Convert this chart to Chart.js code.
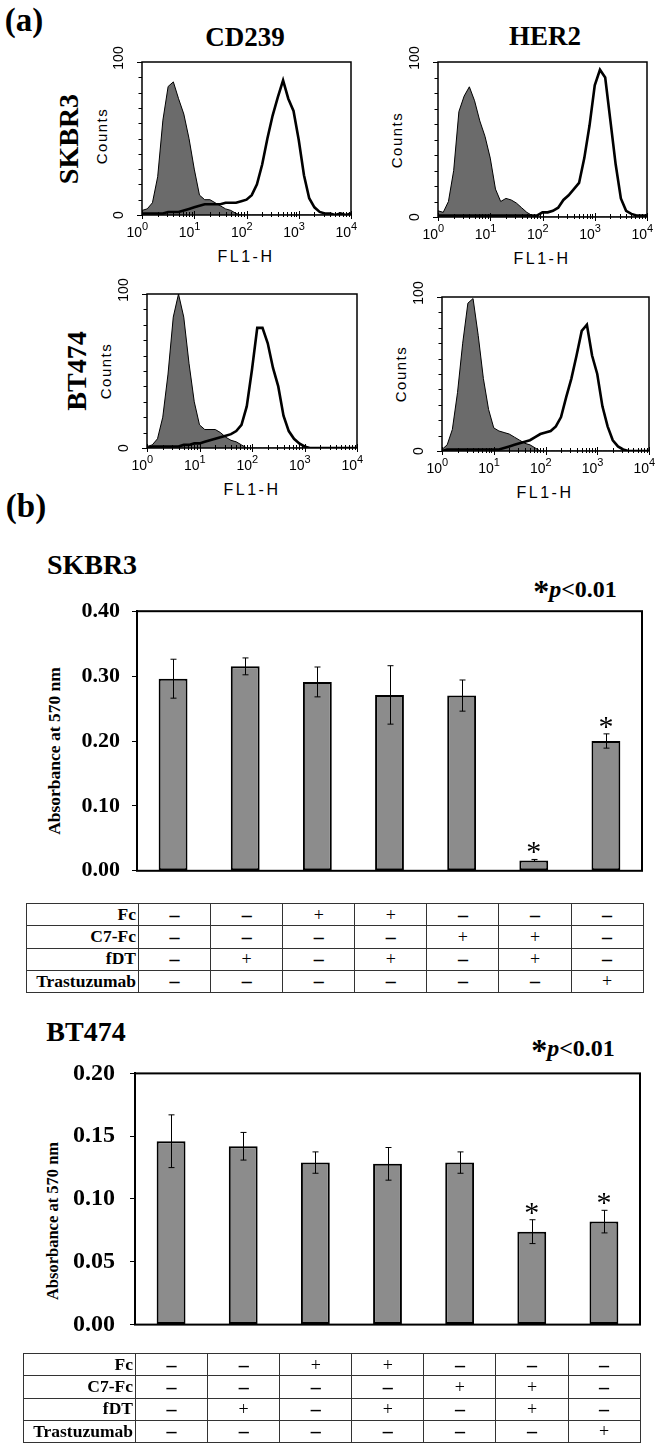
<!DOCTYPE html>
<html><head><meta charset="utf-8">
<script src="https://cdn.jsdelivr.net/npm/chart.js@4.4.1/dist/chart.umd.min.js"></script>
<style>
html,body{margin:0;padding:0;background:#fff;}
body{width:666px;height:1455px;position:relative;overflow:hidden;font-family:"Liberation Serif","Times New Roman",serif;color:#000;}
.c{position:absolute;transform:translate(-50%,-50%);white-space:nowrap;line-height:1;}
.r{position:absolute;transform:translate(-50%,-50%) rotate(-90deg);white-space:nowrap;line-height:1;}
.b{font-weight:bold;}
.sans{font-family:"Liberation Sans",Arial,sans-serif;}
canvas{position:absolute;}
table{position:absolute;border-collapse:collapse;table-layout:fixed;}
td{border:1px solid #333;padding:0;font-size:18px;line-height:1;text-align:center;overflow:hidden;white-space:nowrap;color:#000;}
td.lab{font-weight:bold;text-align:right;padding-right:2px;font-size:17.5px;}
td.v{font-weight:bold;font-size:20px;}
</style>
</head><body>

<div class="c b" style="left:24px;top:20px;font-size:33px;">(a)</div>
<div class="c b" style="left:245px;top:37px;font-size:27px;">CD239</div>
<div class="c b" style="left:545px;top:36px;font-size:27px;">HER2</div>
<div class="r b" style="left:69px;top:139px;font-size:28px;">SKBR3</div>
<div class="r b" style="left:77px;top:371px;font-size:28px;">BT474</div>

<div class="r sans" style="left:101px;top:136px;font-size:15px;letter-spacing:1.5px;">Counts</div>
<div class="r sans" style="left:396px;top:140px;font-size:15px;letter-spacing:1.5px;">Counts</div>
<div class="r sans" style="left:105px;top:371px;font-size:15px;letter-spacing:1.5px;">Counts</div>
<div class="r sans" style="left:400px;top:374px;font-size:15px;letter-spacing:1.5px;">Counts</div>
<div class="c sans" style="left:246px;top:257px;font-size:16px;letter-spacing:2.5px;">FL1-H</div>
<div class="c sans" style="left:542px;top:259px;font-size:16px;letter-spacing:2.5px;">FL1-H</div>
<div class="c sans" style="left:252px;top:490px;font-size:16px;letter-spacing:2.5px;">FL1-H</div>
<div class="c sans" style="left:545px;top:493px;font-size:16px;letter-spacing:2.5px;">FL1-H</div>

<canvas id="h1"></canvas>
<canvas id="h2"></canvas>
<canvas id="h3"></canvas>
<canvas id="h4"></canvas>

<div class="c b" style="left:26px;top:506px;font-size:33px;">(b)</div>
<div class="c b" style="left:92px;top:565px;font-size:28px;">SKBR3</div>
<div class="c b" style="left:575px;top:586px;font-size:24px;"><span style="font-size:32px;position:relative;top:5px;">*</span><i>p</i>&lt;0.01</div>
<div class="r b" style="left:55px;top:751px;font-size:17.5px;">Absorbance at 570 nm</div>
<canvas id="b1"></canvas>
<table id="t1" style="left:26px;top:903px;width:617px;height:89px;"></table>

<div class="c b" style="left:86px;top:1032px;font-size:28px;">BT474</div>
<div class="c b" style="left:573px;top:1045px;font-size:24px;"><span style="font-size:32px;position:relative;top:5px;">*</span><i>p</i>&lt;0.01</div>
<div class="r b" style="left:53px;top:1221px;font-size:16.5px;">Absorbance at 570 nm</div>
<canvas id="b2"></canvas>
<table id="t2" style="left:23px;top:1353px;width:617px;height:89px;"></table>

<script>
// ---------- (a) flow cytometry data: x in decades of FL1-H (10^x), y = counts ----------
const decades = [0,0.1,0.2,0.3,0.4,0.5,0.6,0.7,0.8,0.9,1,1.1,1.2,1.3,1.4,1.5,1.6,1.7,1.8,1.9,2,2.1,2.2,2.3,2.4,2.5,2.6,2.7,2.8,2.9,3,3.1,3.2,3.3,3.4,3.5,3.6,3.7,3.8,3.9,4];
const decadeTicks = [0,1,2,3,4];
const decadeExponents = ['0','1','2','3','4'];
const countTicks = [0,10,20,30,40,50,60,70,80,90,100];
const countLabels = [0,100];

const skbr3Cd239Control  = [3,4,8,25,62,84,87,76,66,50,30,13,10,10,8,6,4,3,1,0,0,0,0,0,0,0,0,0,0,0,0,0,0,0,0,0,0,0,0,0,0];
const skbr3Cd239Antibody = [1,1,1,1,1,2,2,2,3,4,5,6,7,7,7,7,8,8,8,9,10,13,20,33,50,65,77,88,76,68,49,26,11,5,2,1,1,0,1,0,1];
const skbr3Her2Control   = [4,3,10,30,68,78,84,75,62,52,38,18,10,12,11,9,6,3,1,0,0,0,0,0,0,0,0,0,0,0,0,0,0,0,0,0,0,0,0,0,0];
const skbr3Her2Antibody  = [1,1,1,1,1,1,1,1,1,1,1,1,1,1,1,1,1,1,1,1,3,3,4,6,11,14,18,22,38,59,85,95,90,62,34,12,4,2,1,1,1];
const bt474Cd239Control  = [1,2,6,20,48,85,100,85,55,30,15,12,12,12,10,7,5,4,2,0,0,0,0,0,0,0,0,0,0,0,0,0,0,0,0,0,0,0,0,0,0];
const bt474Cd239Antibody = [0,1,1,1,1,1,1,2,2,3,3,4,5,6,7,8,9,11,15,27,51,78,78,68,52,40,21,11,6,3,1,0,0,0,0,0,0,0,0,0,0];
const bt474Her2Control   = [1,4,14,38,70,96,99,75,47,27,15,13,12,11,9,7,5,4,2,0,0,0,0,0,0,0,0,0,0,0,0,0,0,0,0,0,0,0,0,0,0];
const bt474Her2Antibody  = [0,1,1,1,1,1,1,1,1,1,1,1,2,3,4,5,6,7,9,11,12,13,16,22,35,47,62,78,82,62,50,29,16,7,3,1,0,0,0,0,0];

// ---------- (b) MTT assay ----------
const conditions = ['Medium','fDT','Fc','Fc + fDT','C7-Fc','C7-Fc + fDT','Trastuzumab'];
const skbr3Mean = [0.296,0.315,0.291,0.271,0.270,0.016,0.200];
const skbr3Err  = [0.030,0.013,0.023,0.045,0.024,0.0015,0.011];
const skbr3Sig  = [false,false,false,false,false,true,true];
const skbr3Ticks = [0,0.1,0.2,0.3,0.4];
const bt474Mean = [0.146,0.142,0.129,0.128,0.129,0.074,0.082];
const bt474Err  = [0.021,0.011,0.0085,0.013,0.0085,0.0095,0.009];
const bt474Sig  = [false,false,false,false,false,true,true];
const bt474Ticks = [0,0.05,0.1,0.15,0.2];

const treatmentNames = ['Fc','C7-Fc','fDT','Trastuzumab'];
const treatFc          = ['–','–','+','+','–','–','–'];
const treatC7Fc        = ['–','–','–','–','+','+','–'];
const treatFDT         = ['–','+','–','+','–','+','–'];
const treatTrastuzumab = ['–','–','–','–','–','–','+'];

// ---------- plugins ----------
const flowAxes = {
  id: 'flowAxes',
  afterDraw(chart) {
    const {ctx, chartArea: a, scales: {x, y}} = chart;
    ctx.save();
    ctx.strokeStyle = '#000';
    ctx.fillStyle = '#000';
    ctx.lineWidth = 1.5;
    ctx.strokeRect(a.left, a.top, a.right - a.left, a.bottom - a.top);
    ctx.lineWidth = 1;
    countTicks.forEach(v => {
      const py = Math.round(y.getPixelForValue(v)) + 0.5;
      const len = (v === 0 || v === 100) ? 5 : 3.5;
      ctx.beginPath(); ctx.moveTo(a.left - len, py); ctx.lineTo(a.left, py); ctx.stroke();
    });
    const minor = [];
    for (let d = 0; d < 4; d++) for (let k = 2; k <= 9; k++) minor.push(d + Math.log10(k));
    minor.forEach(v => {
      const px = Math.round(x.getPixelForValue(v)) + 0.5;
      ctx.beginPath(); ctx.moveTo(px, a.bottom - 3); ctx.lineTo(px, a.bottom + 2); ctx.stroke();
    });
    decadeTicks.forEach(v => {
      const px = Math.round(x.getPixelForValue(v)) + 0.5;
      ctx.beginPath(); ctx.moveTo(px, a.bottom - 4); ctx.lineTo(px, a.bottom + 4); ctx.stroke();
    });
    ctx.font = '14px "Liberation Sans", Arial, sans-serif';
    countLabels.forEach(v => {
      const py = y.getPixelForValue(v);
      ctx.save();
      ctx.translate(a.left - 19, py - (v === 100 ? 4 : 0));
      ctx.rotate(-Math.PI / 2);
      ctx.textAlign = 'center'; ctx.textBaseline = 'alphabetic';
      ctx.fillText(String(v), 0, 0);
      ctx.restore();
    });
    decadeTicks.forEach((v, i) => {
      const px = x.getPixelForValue(v);
      ctx.font = '14px "Liberation Sans", Arial, sans-serif';
      ctx.textAlign = 'right'; ctx.textBaseline = 'alphabetic';
      ctx.fillText('10', px, a.bottom + 22);
      ctx.font = '11px "Liberation Sans", Arial, sans-serif';
      ctx.textAlign = 'left';
      ctx.fillText(decadeExponents[i], px, a.bottom + 15);
    });
    ctx.restore();
  }
};

const errBars = {
  id: 'errBars',
  afterDatasetsDraw(chart, args, opts) {
    const {ctx, scales: {y}} = chart;
    const meta = chart.getDatasetMeta(0);
    const ds = chart.data.datasets[0].data;
    ctx.save();
    ctx.strokeStyle = '#000'; ctx.fillStyle = '#000'; ctx.lineWidth = 1;
    meta.data.forEach((bar, i) => {
      const xp = Math.round(bar.x) + 0.5;
      const yt = y.getPixelForValue(ds[i] + opts.errors[i]);
      const yb = y.getPixelForValue(ds[i] - opts.errors[i]);
      ctx.beginPath();
      ctx.moveTo(xp, yt); ctx.lineTo(xp, yb);
      ctx.moveTo(xp - 3, yt); ctx.lineTo(xp + 3, yt);
      ctx.moveTo(xp - 3, yb); ctx.lineTo(xp + 3, yb);
      ctx.stroke();
      if (opts.sig[i]) {
        ctx.font = '30px "Liberation Serif", serif';
        ctx.textAlign = 'center'; ctx.textBaseline = 'alphabetic';
        ctx.fillText('*', bar.x, yt + 2);
      }
    });
    ctx.restore();
  }
};

const boxFrame = {
  id: 'boxFrame',
  afterDraw(chart) {
    const {ctx, chartArea: a} = chart;
    ctx.save();
    ctx.strokeStyle = '#000'; ctx.lineWidth = 2;
    ctx.strokeRect(a.left, a.top, a.right - a.left, a.bottom - a.top);
    ctx.restore();
  }
};

// ---------- builders ----------
function makeHist(id, box, ctrl, ab) {
  const pad = {left: 50, top: 20, right: 16, bottom: 30};
  const cv = document.getElementById(id);
  const w = box.r - box.l + pad.left + pad.right, h = box.b - box.t + pad.top + pad.bottom;
  cv.width = w; cv.height = h;
  cv.style.left = (box.l - pad.left) + 'px'; cv.style.top = (box.t - pad.top) + 'px';
  cv.style.width = w + 'px'; cv.style.height = h + 'px';
  new Chart(cv, {
    type: 'line',
    data: { datasets: [
      { data: ab.map((c, i) => ({x: decades[i], y: c})), borderColor: '#000', borderWidth: 2.6, fill: false, pointRadius: 0, tension: 0, order: 0 },
      { data: ctrl.map((c, i) => ({x: decades[i], y: c})), borderColor: '#000', borderWidth: 1, backgroundColor: '#6b6b6b', fill: 'origin', pointRadius: 0, tension: 0, order: 1 }
    ]},
    options: {
      responsive: false, animation: false, devicePixelRatio: 1,
      layout: { padding: pad },
      plugins: { legend: {display: false}, tooltip: {enabled: false} },
      scales: {
        x: { type: 'linear', min: 0, max: 4, display: false },
        y: { min: 0, max: 100, display: false }
      }
    },
    plugins: [flowAxes]
  });
}

function makeBar(id, frame, mean, err, sig, ticks, tickFont, tickPad) {
  const cv = document.getElementById(id);
  const w = 666, h = 310;
  cv.width = w; cv.height = h;
  cv.style.left = '0px'; cv.style.top = frame.canvasTop + 'px';
  cv.style.width = w + 'px'; cv.style.height = h + 'px';
  new Chart(cv, {
    type: 'bar',
    data: { labels: conditions, datasets: [{
      data: mean, backgroundColor: '#8c8c8c', borderColor: '#000', borderWidth: 2,
      borderSkipped: false, barPercentage: 0.4, categoryPercentage: 1.0
    }]},
    options: {
      responsive: false, animation: false, devicePixelRatio: 1,
      layout: { padding: {left: 0, top: frame.top - frame.canvasTop, right: w - frame.right, bottom: frame.canvasTop + h - frame.bottom} },
      plugins: { legend: {display: false}, tooltip: {enabled: false}, errBars: {errors: err, sig: sig} },
      scales: {
        x: { display: false, offset: true },
        y: {
          min: ticks[0], max: ticks[ticks.length - 1],
          afterBuildTicks: s => { s.ticks = ticks.map(v => ({value: v})); },
          afterFit: s => { s.width = frame.left; },
          ticks: { callback: v => Number(v).toFixed(2), color: '#000', padding: tickPad,
                   font: {family: '"Liberation Serif", serif', size: tickFont, weight: 'bold'} },
          grid: { drawOnChartArea: false, drawTicks: true, tickLength: 5, color: '#000', lineWidth: 1 },
          border: { display: true, color: '#000', width: 2 }
        }
      }
    },
    plugins: [errBars, boxFrame]
  });
}

function makeTable(id) {
  const t = document.getElementById(id);
  const cg = document.createElement('colgroup');
  const c0 = document.createElement('col'); c0.style.width = '112px'; cg.appendChild(c0);
  conditions.forEach(() => { const c = document.createElement('col'); c.style.width = '72.1px'; cg.appendChild(c); });
  t.appendChild(cg);
  const rows = [treatFc, treatC7Fc, treatFDT, treatTrastuzumab];
  treatmentNames.forEach((name, r) => {
    const tr = document.createElement('tr');
    tr.style.height = '22.25px';
    const th = document.createElement('td'); th.className = 'lab'; th.textContent = name; tr.appendChild(th);
    rows[r].forEach(s => { const td = document.createElement('td'); td.textContent = s; if (s === '–') td.className = 'v'; tr.appendChild(td); });
    t.appendChild(tr);
  });
}

makeHist('h1', {l: 142, t: 62, r: 351, b: 215}, skbr3Cd239Control, skbr3Cd239Antibody);
makeHist('h2', {l: 438, t: 62, r: 647, b: 217}, skbr3Her2Control, skbr3Her2Antibody);
makeHist('h3', {l: 147, t: 294, r: 357, b: 448}, bt474Cd239Control, bt474Cd239Antibody);
makeHist('h4', {l: 442, t: 297, r: 649, b: 451}, bt474Her2Control, bt474Her2Antibody);

makeBar('b1', {canvasTop: 586, left: 137, top: 606, right: 642, bottom: 882}, skbr3Mean, skbr3Err, skbr3Sig, skbr3Ticks, 22, 12);
makeBar('b2', {canvasTop: 1044, left: 135, top: 1064, right: 640, bottom: 1340}, bt474Mean, bt474Err, bt474Sig, bt474Ticks, 24, 15);

makeTable('t1');
makeTable('t2');
</script>
</body></html>
